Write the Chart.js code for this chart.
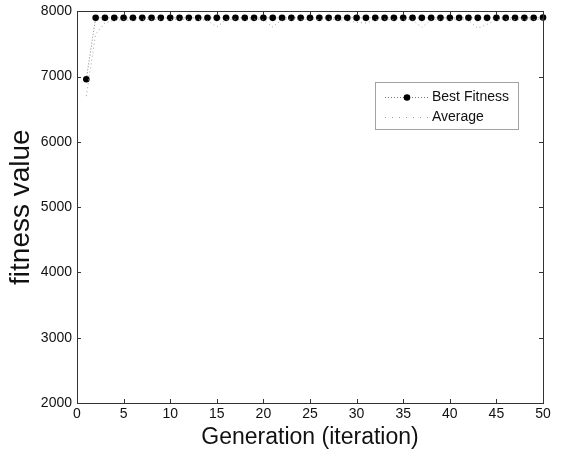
<!DOCTYPE html>
<html>
<head>
<meta charset="utf-8">
<script src="https://cdn.jsdelivr.net/npm/chart.js@4/dist/chart.umd.min.js"></script>
<style>
html,body{margin:0;padding:0;background:#fff;}
#wrap{width:569px;height:458px;}
</style>
</head>
<body>
<div id="wrap"><canvas id="c" width="569" height="458"></canvas></div>
<script>
const generations = Array.from({length:50},(_,i)=>i+1);
const bestFitness = [6960,7900,7900,7900,7900,7900,7900,7900,7900,7900,
  7900,7900,7900,7900,7900,7900,7900,7900,7900,7900,
  7900,7900,7900,7900,7900,7900,7900,7900,7900,7900,
  7900,7900,7900,7900,7900,7900,7900,7900,7900,7900,
  7900,7900,7900,7900,7900,7900,7900,7900,7900,7905];
const averageFitness = [6700,7650,7820,7860,7870,7860,7880,7870,7880,7870,
  7880,7870,7880,7860,7760,7870,7880,7860,7880,7870,
  7760,7870,7880,7870,7880,7870,7880,7870,7860,7830,
  7820,7870,7880,7870,7880,7870,7750,7870,7880,7870,
  7880,7860,7740,7800,7870,7880,7870,7880,7870,7880];
const xTicks = [0,5,10,15,20,25,30,35,40,45,50];
const yTicks = [2000,3000,4000,5000,6000,7000,8000];
const seriesNames = ['Best Fitness','Average'];

const FONT = "'Liberation Sans', Arial, Helvetica, sans-serif";

const boxPlugin = {
  id:'boxPlugin',
  afterDraw(chart){
    const {ctx, chartArea:a, scales} = chart;
    ctx.save();
    ctx.strokeStyle = '#333';
    ctx.lineWidth = 1;
    ctx.strokeRect(Math.round(a.left)+0.5, Math.round(a.top)+0.5, Math.round(a.right-a.left), Math.round(a.bottom-a.top));
    ctx.beginPath();
    xTicks.forEach(v=>{
      const x = Math.round(scales.x.getPixelForValue(v))+0.5;
      ctx.moveTo(x,a.bottom); ctx.lineTo(x,a.bottom-4);
      ctx.moveTo(x,a.top); ctx.lineTo(x,a.top+4);
    });
    yTicks.forEach(v=>{
      const y = Math.round(scales.y.getPixelForValue(v))+0.5;
      ctx.moveTo(a.left,y); ctx.lineTo(a.left+4,y);
      ctx.moveTo(a.right,y); ctx.lineTo(a.right-4,y);
    });
    ctx.stroke();
    // legend
    const lx = 375, ly = 82, lw = 143, lh = 47;
    ctx.fillStyle = '#fff';
    ctx.fillRect(lx,ly,lw,lh);
    ctx.strokeStyle = '#444';
    ctx.setLineDash([1,1]);
    ctx.strokeRect(lx+0.5,ly+0.5,lw,lh);
    ctx.setLineDash([1,2]);
    ctx.strokeStyle = '#777';
    ctx.beginPath(); ctx.moveTo(385,97.5); ctx.lineTo(428,97.5); ctx.stroke();
    ctx.setLineDash([]);
    ctx.fillStyle = '#000';
    ctx.beginPath(); ctx.arc(407,97.5,3.3,0,Math.PI*2); ctx.fill();
    ctx.setLineDash([1,6]);
    ctx.strokeStyle = '#999';
    ctx.beginPath(); ctx.moveTo(385,117.5); ctx.lineTo(428,117.5); ctx.stroke();
    ctx.setLineDash([]);
    ctx.fillStyle = '#111';
    ctx.font = "14px " + FONT;
    ctx.textBaseline = 'middle';
    ctx.fillText(seriesNames[0], 432, 97);
    ctx.fillText(seriesNames[1], 432, 117);
    ctx.restore();
  }
};

new Chart(document.getElementById('c'), {
  type:'line',
  data:{
    labels: generations,
    datasets:[
      {
        label: seriesNames[1],
        data: generations.map((g,i)=>({x:g,y:averageFitness[i]})),
        borderColor:'#a0a0a0',
        borderWidth:1,
        borderDash:[1,3],
        pointRadius:0,
        fill:false,
        tension:0
      },
      {
        label: seriesNames[0],
        data: generations.map((g,i)=>({x:g,y:bestFitness[i]})),
        borderColor:'#777',
        borderWidth:1,
        borderDash:[1,2],
        pointRadius:3.3,
        pointBackgroundColor:'#000',
        pointBorderColor:'#000',
        pointBorderWidth:0,
        fill:false,
        tension:0
      }
    ]
  },
  options:{
    responsive:false,
    animation:false,
    clip:false,
    layout:{padding:{left:0,right:26,top:8,bottom:0}},
    plugins:{legend:{display:false}, tooltip:{enabled:false}},
    scales:{
      x:{
        type:'linear', min:0, max:50,
        afterBuildTicks(s){ s.ticks = xTicks.map(v=>({value:v})); },
        grid:{display:false, drawTicks:false},
        border:{display:false},
        ticks:{color:'#111', font:{family:FONT,size:14}, padding:3, maxRotation:0, callback:v=>String(v)},
        title:{display:true, text:'Generation (iteration)', color:'#111', font:{family:FONT,size:23}, padding:{top:2,bottom:7}},
        afterFit(s){ s.height = 55; }
      },
      y:{
        type:'linear', min:2000, max:8000,
        afterBuildTicks(s){ s.ticks = yTicks.map(v=>({value:v})); },
        grid:{display:false, drawTicks:false},
        border:{display:false},
        ticks:{color:'#111', font:{family:FONT,size:14, lineHeight:0.9}, padding:5, callback:v=>String(v)},
        title:{display:true, text:'fitness value', color:'#111', font:{family:FONT,size:28}, padding:{top:4,bottom:0}},
        afterFit(s){ s.width = 77; }
      }
    }
  },
  plugins:[boxPlugin]
});
</script>
</body>
</html>
